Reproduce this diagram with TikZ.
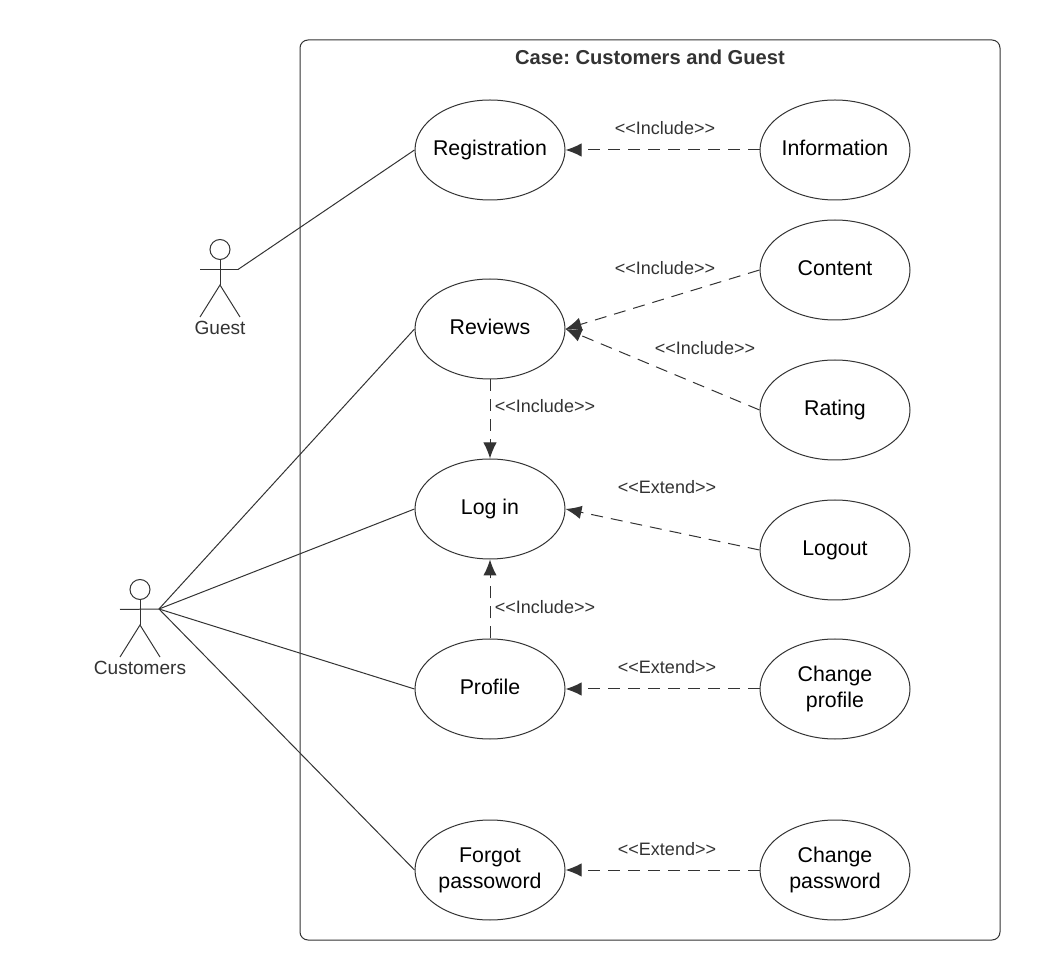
\documentclass[tikz,border=0pt]{standalone}
\usepackage{fontspec}
\setmainfont{Liberation Sans}
\usetikzlibrary{arrows.meta,shapes.geometric}
\definecolor{ink}{HTML}{333333}
\newcommand{\incl}{<{}<Include>{}>}
\newcommand{\extd}{<{}<Extend>{}>}
\tikzset{
  x=0.75pt,y=-0.75pt,
  usecase/.style={draw=ink,line width=0.75pt,ellipse,minimum width=112.5pt,minimum height=75pt,inner xsep=-8pt,inner ysep=0pt,align=center,font=\fontsize{16}{19.5}\selectfont,text=black},
  lbl/.style={font=\fontsize{13.5}{16}\selectfont,text=ink,inner sep=0pt},
  actorname/.style={font=\fontsize{14.3}{16}\selectfont,text=ink,inner sep=0pt},
  frame/.style={draw=ink,line width=0.75pt,rounded corners=6pt},
  solidlink/.style={draw=ink,line width=0.75pt},
  dashlink/.style={draw=ink,line width=0.75pt,dash pattern=on 9pt off 6pt,-{Latex[length=12pt,width=10pt,inset=0pt,sep=0pt]}},
  stick/.style={draw=ink,line width=0.75pt},
}
\begin{document}
\begin{tikzpicture}
\useasboundingbox (0,0) rectangle (1040,980);
\draw[frame] (300,40) rectangle (1000,940);
\node[font=\bfseries\fontsize{15.1}{18}\selectfont\frenchspacing,text=ink,inner sep=0pt] (title) at (650,57) {Case: Customers and Guest};

\node[usecase] (reg) at (490,150) {\strut Registration};
\node[usecase] (rev) at (490,329) {\strut Reviews};
\node[usecase] (log) at (490,509) {\strut Log in};
\node[usecase] (pro) at (490,689) {\strut Profile};
\node[usecase] (for) at (490,870) {\strut Forgot\\\strut passoword};
\node[usecase] (inf) at (835,150) {\strut Information};
\node[usecase] (con) at (835,270) {\strut Content};
\node[usecase] (rat) at (835,410) {\strut Rating};
\node[usecase] (out) at (835,550) {\strut Logout};
\node[usecase] (chp) at (835,689) {\strut Change\\\strut profile};
\node[usecase] (cpw) at (835,870) {\strut Change\\\strut password};

\draw[dashlink] (inf.west) -- (reg.east);
\draw[dashlink] (con.west) -- (rev.east);
\draw[dashlink] (rat.west) -- (rev.east);
\draw[dashlink] (rev.south) -- (log.north);
\draw[dashlink] (out.west) -- (log.east);
\draw[dashlink] (pro.north) -- (log.south);
\draw[dashlink] (chp.west) -- (pro.east);
\draw[dashlink] (cpw.west) -- (for.east);

\node[lbl] (l1) at (665,128) {\incl};
\node[lbl] (l2) at (665,268) {\incl};
\node[lbl] (l3) at (705,348) {\incl};
\node[lbl] (l4) at (545,406) {\incl};
\node[lbl] (l5) at (667,487) {\extd};
\node[lbl] (l6) at (545,607) {\incl};
\node[lbl] (l7) at (667,667) {\extd};
\node[lbl] (l8) at (667,849) {\extd};

% Guest actor
\node[draw=ink,line width=0.75pt,circle,minimum size=15pt,inner sep=0pt] (ghead) at (220,249.5) {};
\coordinate (gl) at (200,269.5);
\coordinate (gh) at (238,269.5);
\coordinate (gb) at (220,285);
\coordinate (gfl) at (200,317);
\coordinate (gfr) at (240,317);
\draw[stick] (ghead.south) -- (gb);
\draw[stick] (gl) -- (gh);
\draw[stick] (gfl) -- (gb) -- (gfr);
\node[actorname] (gname) at (220,327.5) {Guest};

% Customers actor
\node[draw=ink,line width=0.75pt,circle,minimum size=15pt,inner sep=0pt] (chead) at (140,589.5) {};
\coordinate (cl) at (120,609.5);
\coordinate (ch) at (159,609);
\coordinate (cb) at (140,625);
\coordinate (cfl) at (120,657);
\coordinate (cfr) at (160,657);
\draw[stick] (chead.south) -- (cb);
\draw[stick] (cl) -- (ch);
\draw[stick] (cfl) -- (cb) -- (cfr);
\node[actorname] (cname) at (140,667.5) {Customers};

\draw[solidlink] (gh) -- (reg.west);
\draw[solidlink] (ch) -- (rev.west);
\draw[solidlink] (ch) -- (log.west);
\draw[solidlink] (ch) -- (pro.west);
\draw[solidlink] (ch) -- (for.west);
\end{tikzpicture}
\end{document}
